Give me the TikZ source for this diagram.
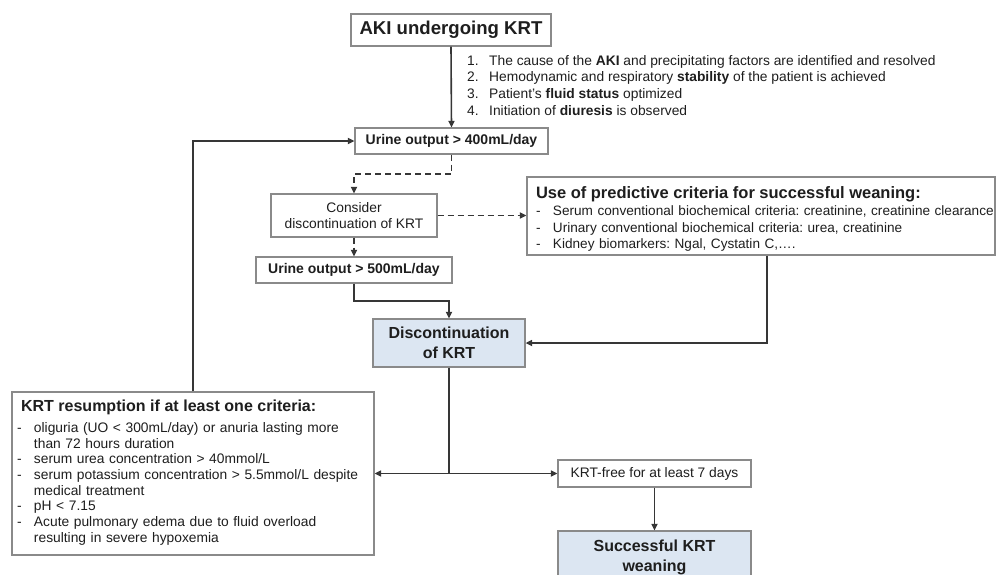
\documentclass[tikz,border=0pt]{standalone}
\usepackage{fontspec}
\setmainfont{Liberation Sans}
\usetikzlibrary{arrows.meta}
\definecolor{lncol}{HTML}{363636}
\definecolor{bdcol}{HTML}{8A8A8A}
\definecolor{bluefill}{HTML}{DCE6F2}
\definecolor{txcol}{HTML}{1E1E1E}
\newcommand{\fsz}[2]{\fontsize{#1}{#2}\selectfont}
\frenchspacing
\begin{document}
\begin{tikzpicture}[x=1pt,y=-1pt,
  box/.style={draw=bdcol,line width=1.2pt,fill=white,inner sep=0pt,text=txcol},
  bluebox/.style={box,fill=bluefill},
  conn/.style={draw=lncol,line width=1.6pt,-{Triangle[length=6.5pt,width=6pt]}},
  plainconn/.style={draw=lncol,line width=1.6pt},
  dsh/.style={dash pattern=on 6pt off 4pt}
]
\useasboundingbox (0,0) rectangle (996,574);
\clip (0,0) rectangle (996,574);

% boxes
\node[box,minimum width=200pt,minimum height=32pt,font=\bfseries\fsz{18.6}{22}] (aki) at (451,30) {AKI undergoing KRT};

\node[anchor=base west,inner sep=0pt,text=txcol,font=\fsz{13.8}{16.9}] (cond) at (467,65)
 {\begin{tabular}[t]{@{}p{22pt}@{}l@{}}
  1. & The cause of the \textbf{AKI} and precipitating factors are identified and resolved\\
  2. & Hemodynamic and respiratory \textbf{stability} of the patient is achieved\\
  3. & Patient's \textbf{fluid status} optimized\\
  4. & Initiation of \textbf{diuresis} is observed
 \end{tabular}};

\node[box,minimum width=193pt,minimum height=26pt,font=\bfseries\fsz{14}{16}] (u400) at (451.5,141) {Urine output > 400mL/day};

\node[box,minimum width=166pt,minimum height=43pt,align=center,font=\fsz{13.8}{16}] (consider) at (354,215.5) {Consider\\discontinuation of KRT};

\node[box,minimum width=196pt,minimum height=26pt,font=\bfseries\fsz{14}{16}] (u500) at (354,270) {Urine output > 500mL/day};

\node[box,minimum width=468pt,minimum height=78pt,inner xsep=9pt,text width=450pt,align=left,font=\fsz{13.6}{16.8}] (pred) at (761,216)
 {\begin{tabular}{@{}p{17pt}@{}l@{}}
  \multicolumn{2}{@{}l@{}}{\rule{0pt}{20pt}\fsz{16.5}{19}\bfseries Use of predictive criteria for successful weaning:}\\[0.5pt]
  - & Serum conventional biochemical criteria: creatinine, creatinine clearance\\
  - & Urinary conventional biochemical criteria: urea, creatinine\\
  - & Kidney biomarkers: Ngal, Cystatin C,\dots.
 \end{tabular}};

\node[bluebox,minimum width=152pt,minimum height=48pt,align=center,font=\bfseries\fsz{16}{20}] (disc) at (449,343) {Discontinuation\\of KRT};

\node[box,minimum width=362pt,minimum height=163pt,inner xsep=5pt,text width=352pt,align=left,font=\fsz{13.8}{15.7}] (resum) at (193,473.5)
 {\begin{tabular}{@{}p{17pt}@{}l@{}}
  \multicolumn{2}{@{}l@{}}{\hspace{4pt}\fsz{16}{19}\bfseries KRT resumption if at least one criteria:}\\[5pt]
  - & oliguria (UO < 300mL/day) or anuria lasting more\\
    & than 72 hours duration\\
  - & serum urea concentration > 40mmol/L\\
  - & serum potassium concentration > 5.5mmol/L despite\\
    & medical treatment\\
  - & pH < 7.15\\
  - & Acute pulmonary edema due to fluid overload\\
    & resulting in severe hypoxemia
 \end{tabular}};

\node[box,minimum width=193pt,minimum height=27pt,font=\fsz{13.8}{16}] (free) at (654.5,473.5) {KRT-free for at least 7 days};

\node[bluebox,minimum width=193pt,minimum height=52pt,align=center,font=\bfseries\fsz{16}{20}] (succ) at (654.5,557) {Successful KRT\\weaning};

% helper coordinates
\coordinate (dlev) at (0,174);
\coordinate (ulev) at (0,301);
\coordinate (pcol) at (767,0);
\coordinate (jn) at (disc.south |- free.west);

% connectors
\draw[conn] (aki.south) -- (u400.north);
\draw[conn] (resum.north) |- (u400.west);
\draw[conn,dsh] (u400.south) -- (u400.south |- dlev) -| (consider.north);
\draw[conn,dsh] (consider.east) -- (pred.west |- consider.east);
\draw[conn,dsh] (consider.south) -- (u500.north);
\draw[conn] (u500.south) -- (u500.south |- ulev) -| (disc.north);
\draw[conn] (pred.south -| pcol) |- (disc.east);
\draw[plainconn] (disc.south) -- (jn);
\draw[conn] (jn) -- (resum.east |- jn);
\draw[conn] (jn) -- (free.west);
\draw[conn] (free.south) -- (succ.north);
\end{tikzpicture}
\end{document}
